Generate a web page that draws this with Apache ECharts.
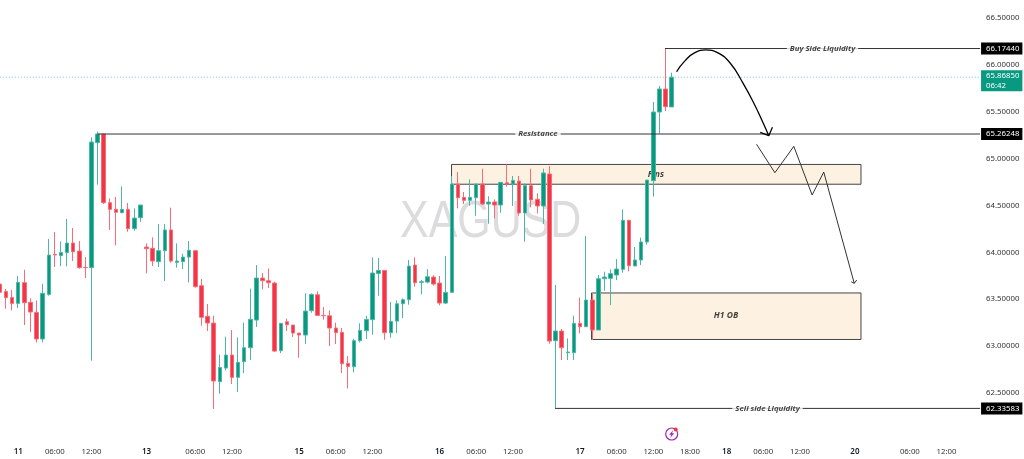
<!DOCTYPE html>
<html><head><meta charset="utf-8">
<style>html,body{margin:0;padding:0;background:#fff}#c{width:1024px;height:459px}</style>
<script src="https://cdn.jsdelivr.net/npm/echarts@6/dist/echarts.min.js"></script>
</head><body><div id="c"></div>
<script>
// [open, close, low, high], one hourly candle per row
const candles = [
[63.662,63.574,63.563,63.670],[63.584,63.517,63.399,63.609],[63.520,63.456,63.381,63.598],[63.456,63.680,63.406,63.748],
[63.677,63.463,63.225,63.815],[63.467,63.364,63.150,63.510],[63.360,63.076,63.040,63.488],[63.076,63.563,63.040,63.666],
[63.552,63.972,63.538,64.143],[63.979,63.972,63.844,64.217],[63.965,64.000,63.854,64.118],[63.997,64.100,63.851,64.356],
[64.100,64.007,63.908,64.260],[64.014,63.837,63.826,64.121],[63.840,63.837,63.726,63.950],[63.837,65.177,62.845,65.227],
[65.170,65.263,64.722,65.288],[65.263,64.530,64.516,65.263],[64.530,64.459,64.239,64.576],[64.459,64.427,64.075,64.591],
[64.423,64.459,64.423,64.704],[64.459,64.253,64.221,64.527],[64.253,64.366,64.231,64.470],[64.370,64.505,64.327,64.505],
[64.057,64.039,63.776,64.096],[64.043,63.908,63.854,64.160],[63.901,64.018,63.844,64.303],[64.018,64.239,63.694,64.303],
[64.239,63.908,63.890,64.477],[63.894,63.908,63.837,64.096],[63.901,63.950,63.822,63.986],[63.950,64.022,63.680,64.121],
[64.018,63.634,63.623,64.022],[63.645,63.307,63.218,63.716],[63.318,63.246,63.161,63.449],[63.246,62.628,62.329,63.325],
[62.621,62.773,62.493,62.909],[62.766,62.905,62.741,63.101],[62.905,62.667,62.596,63.172],[62.667,62.827,62.510,63.093],
[62.834,62.983,62.713,63.250],[62.983,63.286,62.852,63.613],[63.278,63.726,63.204,63.865],[63.726,63.698,63.605,63.780],
[63.698,63.676,63.620,63.829],[63.673,62.947,62.937,63.687],[62.951,63.243,62.926,63.246],[63.260,63.228,63.161,63.292],
[63.225,63.139,63.097,63.225],[63.139,63.118,62.876,63.139],[63.118,63.374,63.026,63.563],[63.378,63.552,63.356,63.563],
[63.548,63.328,63.328,63.584],[63.328,63.324,63.282,63.417],[63.324,63.193,63.001,63.381],[63.193,63.143,63.022,63.250],
[63.147,62.812,62.713,63.193],[62.816,62.784,62.549,62.894],[62.780,63.058,62.720,63.079],[63.058,63.168,63.040,63.243],
[63.164,63.285,63.075,63.324],[63.282,63.780,63.122,63.947],[63.776,63.808,63.538,63.940],[63.808,63.143,63.068,63.808],
[63.143,63.264,63.090,63.470],[63.267,63.452,63.139,63.488],[63.452,63.495,63.299,63.509],[63.495,63.854,63.442,63.918],
[63.865,63.676,63.634,63.947],[63.680,63.687,63.552,63.705],[63.683,63.740,63.669,63.822],[63.737,63.662,63.644,63.755],
[63.673,63.459,63.435,63.748],[63.459,63.573,63.449,63.961],[63.574,64.729,63.574,64.815],[64.729,64.583,64.470,64.857],
[64.587,64.555,64.516,64.644],[64.555,64.587,64.498,64.779],[64.583,64.729,64.391,64.729],[64.729,64.516,64.505,64.893],
[64.516,64.537,64.306,64.598],[64.537,64.505,64.363,64.566],[64.505,64.747,64.423,64.747],[64.743,64.729,64.701,64.939],
[64.729,64.768,64.495,64.815],[64.761,64.420,64.391,64.815],[64.420,64.712,64.114,64.736],[64.712,64.559,64.480,64.893],
[64.566,64.495,64.416,64.630],[64.495,64.847,64.303,64.893],[64.836,63.054,63.026,64.921],[63.058,63.161,62.336,63.652],
[63.161,62.983,62.852,63.182],[62.930,62.937,62.852,63.083],[62.930,63.243,62.852,63.325],[63.243,63.207,63.136,63.517],
[63.207,63.492,63.207,64.175],[63.492,63.172,63.065,63.556],[63.172,63.719,63.172,63.759],[63.719,63.737,63.591,63.794],
[63.723,63.773,63.438,63.819],[63.759,63.822,63.705,63.929],[63.819,64.342,63.783,64.459],[64.342,63.858,63.798,64.342],
[63.855,63.919,63.855,64.057],[63.919,64.111,63.865,64.157],[64.111,64.772,64.082,64.772],[64.765,65.497,64.594,65.604],
[65.497,65.743,65.270,65.775],[65.743,65.554,65.508,66.174],[65.551,65.8685,65.551,65.917]
];
const barCount = 161;
const tickSlots  = [3,9,15,24,32,38,49,55,61,72,78,84,95,101,107,113,119,125,131,140,149,155];
const tickLabels = ['11','06:00','12:00','13','06:00','12:00','15','06:00','12:00','16','06:00','12:00','17','06:00','12:00','18:00','18','06:00','12:00','20','06:00','12:00'];
const yTicksMin = 62, yTicksMax = 66.692, yStep = 0.5;

const buyLevel = 66.1744, resistLevel = 65.26248, sellLevel = 62.33583, lastPrice = 65.8685;
const buyFrom = 108.9, resistFrom = 16, sellFrom = 90.9, lineTo = 160.5;
const countdown = '06:42';
// zones: [fromSlot, toSlot, topPrice, bottomPrice]
const zones = [[73.95,141,64.938,64.727],[96.87,141,63.567,63.071]];
// annotation labels: [slot, price, text]
const notes = [[134.7,66.1744,'Buy Side Liquidity'],[88.1,65.26248,'Resistance'],[125.7,62.33583,'Sell side Liquidity'],[107.4,64.832,'Fins'],[118.9,63.325,'H1 OB']];
// hand drawn paths: [slot, price]
const curve = [[110.8,65.927],[112.2,66.045],[113.8,66.130],[115.6,66.159],[117.5,66.130],[119.6,66.017],[121.7,65.803],[123.6,65.572],[125,65.377],[125.9,65.245]];
const curveHead = [[124.5,65.281],[125.9,65.245],[126.5,65.334]];
const zigzag = [[123.9,65.153],[126.9,64.850],[130,65.131],[133,64.612],[134.9,64.857],[139.9,63.670]];
const zigzagHead = [[139.4,63.687],[139.9,63.670],[140.3,63.705]];

const UP = '#089981', DOWN = '#F23645', INK = '#333333';
const UP_EDGE = '#4DB6A5', DOWN_EDGE = '#F76C78';
const FONT = '"Noto Sans", sans-serif';
const pxPerSlot = 6.107, pxPerUnit = 93.75;
const cats = new Array(barCount).fill('');
tickSlots.forEach((s,i)=>{cats[s]=tickLabels[i];});

function tagLine(level, from, text){
  return {type:'line',xAxisIndex:1,yAxisIndex:0,symbol:'none',silent:true,z:4,
    data:[[from,level],[lineTo,level]],lineStyle:{color:INK,width:1},
    endLabel:{show:true,formatter:text,distance:1,color:'#fff',backgroundColor:'#000',fontFamily:FONT,fontSize:7.8,padding:[2,3,2,5]}};
}
function path(pts,w,c,smooth){
  return {type:'line',xAxisIndex:1,yAxisIndex:0,symbol:'none',silent:true,z:6,smooth:smooth||false,data:pts,lineStyle:{color:c,width:w}};
}
const chart = echarts.init(document.getElementById('c'),null,{renderer:'canvas'});
chart.setOption({
  animation:false,backgroundColor:'#fff',
  grid:{left:-3.15,top:0,width:barCount*pxPerSlot,height:(yTicksMax-yTicksMin)*pxPerUnit,containLabel:false,outerBoundsMode:'none'},
  graphic:[
    {type:'text',x:400,y:197,scaleX:0.826,z:-5,style:{text:'XAGUSD',fill:'#dcdcde',font:'52px "Liberation Sans"'}},
    {type:'circle',x:671.7,y:434,z:10,shape:{r:6},style:{fill:'#fff',stroke:'#9C27B0',lineWidth:1.2}},
    {type:'polygon',x:671.7,y:434,z:10,shape:{points:[[1.5,-4],[-2.5,0.8],[-0.3,0.8],[-1.5,4],[2.5,-0.8],[0.3,-0.8]]},style:{fill:'#9C27B0'}},
    {type:'circle',x:675.7,y:429.5,z:11,shape:{r:2},style:{fill:'#F23645'}}
  ],
  xAxis:[
    {type:'category',data:cats,axisLine:{show:false},axisTick:{show:false},splitLine:{show:false},
     axisLabel:{interval:0,margin:8,hideOverlap:false,formatter:v=>v===''?'':(v.length<=2?'{d|'+v+'}':'{t|'+v+'}'),
       rich:{d:{color:'#131722',fontFamily:FONT,fontSize:8,fontWeight:600},t:{color:'#333',fontFamily:FONT,fontSize:7.8}}}},
    {type:'value',min:-0.5,max:barCount-0.5,show:false,splitLine:{show:false}}
  ],
  yAxis:{type:'value',position:'right',min:yTicksMin,max:yTicksMax,interval:yStep,
    axisLine:{show:false},axisTick:{show:false},splitLine:{show:false},
    axisLabel:{margin:6,align:'left',color:'#333',fontFamily:FONT,fontSize:7.8,
      formatter:v=>(v<62.4||v>66.6)?'':v.toFixed(5)}},
  series:[
    {type:'custom',xAxisIndex:1,yAxisIndex:0,z:1,silent:true,data:zones,
     encode:{x:[0,1],y:[2,3]},
     renderItem:(p,api)=>{
       const a=api.coord([api.value(0),api.value(2)]),b=api.coord([api.value(1),api.value(3)]);
       return {type:'rect',shape:{x:a[0],y:a[1],width:b[0]-a[0],height:b[1]-a[1]},style:{fill:'#FDF2E1',stroke:'#444',lineWidth:1}};
     }},
    {type:'scatter',xAxisIndex:1,yAxisIndex:0,z:1.5,silent:true,symbolSize:0,data:notes.slice(3).map(n=>[n[0],n[1]]),
     label:{show:true,position:'inside',formatter:p=>notes[p.dataIndex+3][2],color:'#111',fontFamily:FONT,fontStyle:'italic',fontWeight:'bold',fontSize:8.5}},
    {type:'line',xAxisIndex:1,yAxisIndex:0,symbol:'none',silent:true,z:1,data:[[-0.5,lastPrice],[lineTo,lastPrice]],
     lineStyle:{color:'#6FD0C0',width:1,type:[1,2]},
     endLabel:{show:true,formatter:'65.86850\n'+countdown,distance:1,offset:[0,3.5],color:'#fff',backgroundColor:UP,fontFamily:FONT,fontSize:7.8,lineHeight:9.5,align:'left',padding:[1,3,1,5]}},
    {type:'candlestick',xAxisIndex:0,yAxisIndex:0,z:2,barWidth:4,silent:true,data:candles,
     itemStyle:{color:UP,color0:DOWN,borderColor:UP_EDGE,borderColor0:DOWN_EDGE,borderWidth:1}},
    tagLine(buyLevel,buyFrom,'66.17440'),
    tagLine(resistLevel,resistFrom,'65.26248'),
    tagLine(sellLevel,sellFrom,'62.33583'),
    {type:'scatter',xAxisIndex:1,yAxisIndex:0,z:5,silent:true,symbolSize:0,data:notes.slice(0,3).map(n=>[n[0],n[1]]),
     label:{show:true,position:'inside',formatter:p=>notes[p.dataIndex][2],color:'#111',fontFamily:FONT,fontStyle:'italic',fontWeight:'bold',fontSize:7.8,backgroundColor:'#fff',padding:[1,3,1,3]}},
    path(curve,1.3,'#000',0.5),
    path(curveHead,1.3,'#000'),
    path(zigzag,1,INK),
    path(zigzagHead,1,INK)
  ]
});
</script></body></html>
